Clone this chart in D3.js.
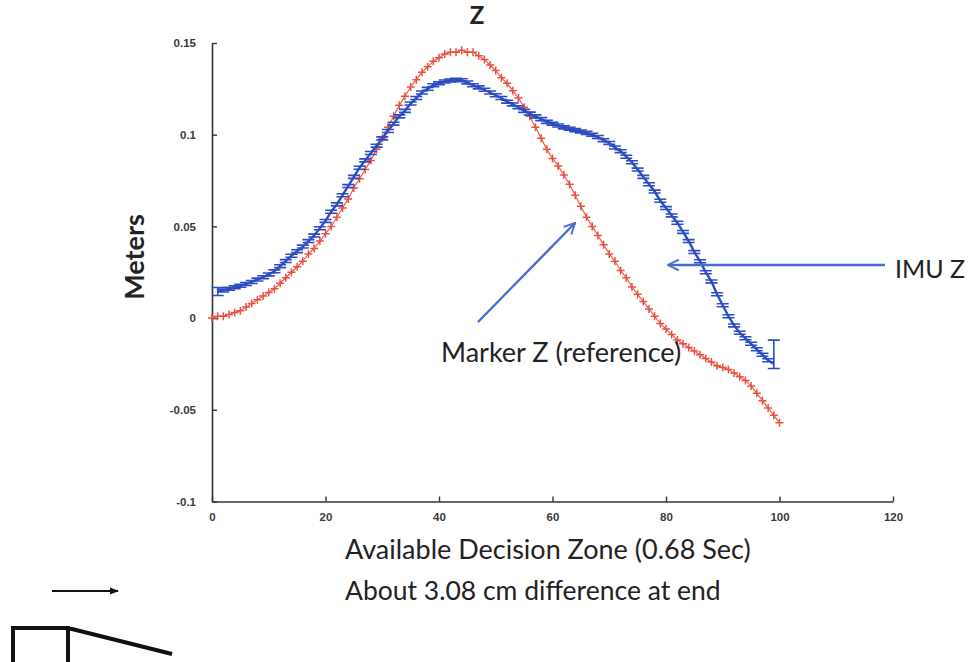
<!DOCTYPE html>
<html><head><meta charset="utf-8">
<script src="https://cdn.jsdelivr.net/npm/d3@7"></script>
<style>body{margin:0;background:#fff}svg{display:block}</style>
</head><body>
<script>
// ---- data ----
const titleText = "Z";
const xLabelText = "Available Decision Zone (0.68 Sec)";
const noteText = "About 3.08 cm difference at end";
const yLabelText = "Meters";
const xTicks = [0, 20, 40, 60, 80, 100, 120];
const yTicks = [-0.1, -0.05, 0, 0.05, 0.1, 0.15];
const yTickLabels = ["-0.1", "-0.05", "0", "0.05", "0.1", "0.15"];

// Marker Z (reference), x = 0..100
const markerX = [0,1,2,3,4,5,6,7,8,9,10,11,12,13,14,15,16,17,18,19,20,21,22,23,24,25,26,27,28,29,30,31,32,33,34,35,36,37,38,39,40,41,42,43,44,45,46,47,48,49,50,51,52,53,54,55,56,57,58,59,60,61,62,63,64,65,66,67,68,69,70,71,72,73,74,75,76,77,78,79,80,81,82,83,84,85,86,87,88,89,90,91,92,93,94,95,96,97,98,99,100];
const markerZ = [0.000,0.001,0.001,0.002,0.003,0.004,0.006,0.008,0.010,0.012,0.014,0.016,0.019,0.022,0.025,0.028,0.031,0.035,0.038,0.042,0.046,0.050,0.055,0.060,0.065,0.071,0.076,0.081,0.086,0.092,0.098,0.104,0.110,0.116,0.121,0.126,0.130,0.134,0.137,0.140,0.142,0.144,0.145,0.145,0.146,0.145,0.145,0.143,0.141,0.138,0.135,0.131,0.128,0.124,0.120,0.115,0.110,0.104,0.098,0.092,0.087,0.083,0.078,0.073,0.067,0.061,0.055,0.050,0.045,0.040,0.035,0.031,0.026,0.022,0.017,0.013,0.009,0.005,0.001,-0.003,-0.006,-0.009,-0.012,-0.014,-0.016,-0.018,-0.020,-0.022,-0.024,-0.026,-0.027,-0.028,-0.030,-0.032,-0.034,-0.037,-0.041,-0.045,-0.049,-0.053,-0.057];

// IMU Z, x = 1..99, with error bars
const imuX = [1,2,3,4,5,6,7,8,9,10,11,12,13,14,15,16,17,18,19,20,21,22,23,24,25,26,27,28,29,30,31,32,33,34,35,36,37,38,39,40,41,42,43,44,45,46,47,48,49,50,51,52,53,54,55,56,57,58,59,60,61,62,63,64,65,66,67,68,69,70,71,72,73,74,75,76,77,78,79,80,81,82,83,84,85,86,87,88,89,90,91,92,93,94,95,96,97,98,99];
const imuZ = [0.0145,0.0150,0.0160,0.0168,0.0176,0.0186,0.0197,0.0210,0.0223,0.0238,0.0255,0.0283,0.0311,0.0340,0.0365,0.0390,0.0420,0.0450,0.0490,0.0530,0.0580,0.0620,0.0670,0.0720,0.0770,0.0820,0.0860,0.0900,0.0940,0.0980,0.1020,0.1060,0.1100,0.1130,0.1170,0.1200,0.1230,0.1250,0.1270,0.1280,0.1290,0.1295,0.1300,0.1297,0.1285,0.1270,0.1258,0.1245,0.1230,0.1215,0.1200,0.1180,0.1165,0.1150,0.1130,0.1115,0.1100,0.1085,0.1070,0.1060,0.1050,0.1040,0.1033,0.1025,0.1018,0.1010,0.1000,0.0988,0.0970,0.0955,0.0930,0.0910,0.0880,0.0850,0.0810,0.0770,0.0730,0.0690,0.0640,0.0600,0.0560,0.0520,0.0470,0.0420,0.0360,0.0310,0.0250,0.0200,0.0130,0.0070,0.0010,-0.0040,-0.0080,-0.0110,-0.0140,-0.0170,-0.0200,-0.0230,-0.0250];
const imuErrLow = [0.0022,0.0008,0.0008,0.0008,0.0008,0.0008,0.0008,0.0008,0.0008,0.0008,0.0008,0.0008,0.0008,0.0008,0.0008,0.0008,0.0008,0.0008,0.0008,0.0008,0.0008,0.0008,0.0008,0.0008,0.0008,0.0008,0.0008,0.0008,0.0008,0.0008,0.0008,0.0008,0.0008,0.0008,0.0008,0.0008,0.0008,0.0008,0.0008,0.0008,0.0008,0.0008,0.0008,0.0008,0.0008,0.0008,0.0008,0.0008,0.0008,0.0008,0.0008,0.0008,0.0008,0.0008,0.0008,0.0008,0.0008,0.0008,0.0008,0.0008,0.0008,0.0008,0.0008,0.0008,0.0008,0.0008,0.0008,0.0008,0.0008,0.0008,0.0008,0.0008,0.0008,0.0008,0.0008,0.0008,0.0008,0.0008,0.0008,0.0008,0.0008,0.0008,0.0008,0.0008,0.0008,0.0008,0.0008,0.0008,0.0008,0.0008,0.0008,0.0008,0.0008,0.0008,0.0008,0.0008,0.0008,0.0008,0.0025];
const imuErrHigh = [0.0022,0.0008,0.0008,0.0008,0.0008,0.0008,0.0008,0.0008,0.0008,0.0008,0.0008,0.0008,0.0008,0.0008,0.0008,0.0008,0.0008,0.0008,0.0008,0.0008,0.0008,0.0008,0.0008,0.0008,0.0008,0.0008,0.0008,0.0008,0.0008,0.0008,0.0008,0.0008,0.0008,0.0008,0.0008,0.0008,0.0008,0.0008,0.0008,0.0008,0.0008,0.0008,0.0008,0.0008,0.0008,0.0008,0.0008,0.0008,0.0008,0.0008,0.0008,0.0008,0.0008,0.0008,0.0008,0.0008,0.0008,0.0008,0.0008,0.0008,0.0008,0.0008,0.0008,0.0008,0.0008,0.0008,0.0008,0.0008,0.0008,0.0008,0.0008,0.0008,0.0008,0.0008,0.0008,0.0008,0.0008,0.0008,0.0008,0.0008,0.0008,0.0008,0.0008,0.0008,0.0008,0.0008,0.0008,0.0008,0.0008,0.0008,0.0008,0.0008,0.0008,0.0008,0.0008,0.0008,0.0008,0.0008,0.0130];

const annoIMU = "IMU Z";
const annoMarker = "Marker Z (reference)";

// ---- drawing ----
const W = 968, H = 662;
const svg = d3.select("body").append("svg").attr("width", W).attr("height", H);
const font = "Lato, 'Open Sans', sans-serif";
const x = d3.scaleLinear().domain([0, 120]).range([212, 893]);
const y = d3.scaleLinear().domain([-0.1, 0.15]).range([501.5, 43]);

const red = "#e9503f", blue = "#2c4cc4", arrowBlue = "#4a6cd0";

// axes
const gy = svg.append("g").attr("transform", `translate(${x(0)},0)`)
  .call(d3.axisLeft(y).tickValues(yTicks).tickFormat((d, i) => yTickLabels[i]).tickSizeInner(-5).tickSizeOuter(0).tickPadding(16));
const gx = svg.append("g").attr("transform", `translate(0,${y(-0.1)})`)
  .call(d3.axisBottom(x).tickValues(xTicks).tickFormat(d3.format("d")).tickSizeInner(-5).tickSizeOuter(0).tickPadding(11));
[gx, gy].forEach(g => {
  g.select(".domain").attr("stroke", "#333").attr("stroke-width", 1.6);
  g.selectAll(".tick line").attr("stroke", "#333").attr("stroke-width", 1.4);
  g.selectAll(".tick text").attr("font-family", "'Liberation Sans', Arial, sans-serif")
    .attr("font-size", 11.5).attr("font-weight", "bold").attr("fill", "#3a3a3a");
});

// Marker Z series
const markerData = markerX.map((d, i) => [d, markerZ[i]]);
svg.append("path").datum(markerData)
  .attr("fill", "none").attr("stroke", red).attr("stroke-width", 1.1)
  .attr("d", d3.line().x(d => x(d[0])).y(d => y(d[1])));
const ms = 4;
svg.append("g").selectAll("path").data(markerData).join("path")
  .attr("d", d => `M${x(d[0]) - ms},${y(d[1])}H${x(d[0]) + ms}M${x(d[0])},${y(d[1]) - ms}V${y(d[1]) + ms}`)
  .attr("stroke", red).attr("stroke-width", 1.5).attr("fill", "none");

// IMU Z series with error bars
const imuData = imuX.map((d, i) => ({x: d, y: imuZ[i], lo: imuZ[i] - imuErrLow[i], hi: imuZ[i] + imuErrHigh[i]}));
svg.append("path").datum(imuData)
  .attr("fill", "none").attr("stroke", blue).attr("stroke-width", 2.4)
  .attr("d", d3.line().x(d => x(d.x)).y(d => y(d.y)));
const cw = 6;
svg.append("g").selectAll("path").data(imuData).join("path")
  .attr("d", d => {
    const cx = x(d.x), yl = y(d.lo), yh = y(d.hi);
    return `M${cx},${yl}V${yh}M${cx - cw},${yl}H${cx + cw}M${cx - cw},${yh}H${cx + cw}`;
  })
  .attr("stroke", blue).attr("stroke-width", 1.6).attr("fill", "none");

// title and labels
svg.append("text").attr("x", 477).attr("y", 24).attr("text-anchor", "middle")
  .attr("font-family", font).attr("font-size", 24).attr("font-weight", "bold").attr("fill", "#222").text(titleText);
svg.append("text").attr("transform", "translate(144,257) rotate(-90)").attr("text-anchor", "middle")
  .attr("font-family", font).attr("font-size", 27).attr("font-weight", "bold").attr("fill", "#222").text(yLabelText);
svg.append("text").attr("x", 345).attr("y", 559)
  .attr("font-family", font).attr("font-size", 27).attr("fill", "#222").text(xLabelText);
svg.append("text").attr("x", 345).attr("y", 600)
  .attr("font-family", font).attr("font-size", 26.5).attr("fill", "#222").text(noteText);

// annotations
const defs = svg.append("defs");
defs.append("marker").attr("id", "openhead").attr("viewBox", "0 0 12 12").attr("refX", 11).attr("refY", 6)
  .attr("markerWidth", 13).attr("markerHeight", 13).attr("markerUnits", "userSpaceOnUse").attr("orient", "auto")
  .append("path").attr("d", "M1,1L11,6L1,11").attr("fill", "none").attr("stroke", arrowBlue).attr("stroke-width", 1.8);
defs.append("marker").attr("id", "blackhead").attr("viewBox", "0 0 10 10").attr("refX", 9).attr("refY", 5)
  .attr("markerWidth", 9).attr("markerHeight", 9).attr("markerUnits", "userSpaceOnUse").attr("orient", "auto")
  .append("path").attr("d", "M0,1L10,5L0,9Z").attr("fill", "#111");

svg.append("line").attr("x1", 885).attr("y1", 265).attr("x2", 668).attr("y2", 265)
  .attr("stroke", arrowBlue).attr("stroke-width", 2.4).attr("marker-end", "url(#openhead)");
svg.append("text").attr("x", 895).attr("y", 278)
  .attr("font-family", font).attr("font-size", 25).attr("fill", "#222").text(annoIMU);
svg.append("line").attr("x1", 478).attr("y1", 322).attr("x2", 575).attr("y2", 223)
  .attr("stroke", arrowBlue).attr("stroke-width", 2.4).attr("marker-end", "url(#openhead)");
svg.append("text").attr("x", 441).attr("y", 362)
  .attr("font-family", font).attr("font-size", 27).attr("fill", "#222").text(annoMarker);

// bottom-left sketch
svg.append("line").attr("x1", 52).attr("y1", 591).attr("x2", 118).attr("y2", 591)
  .attr("stroke", "#111").attr("stroke-width", 1.8).attr("marker-end", "url(#blackhead)");
svg.append("path").attr("d", "M13,662V628H68V662M68,628L172,654")
  .attr("fill", "none").attr("stroke", "#111").attr("stroke-width", 4);
</script>
</body></html>
